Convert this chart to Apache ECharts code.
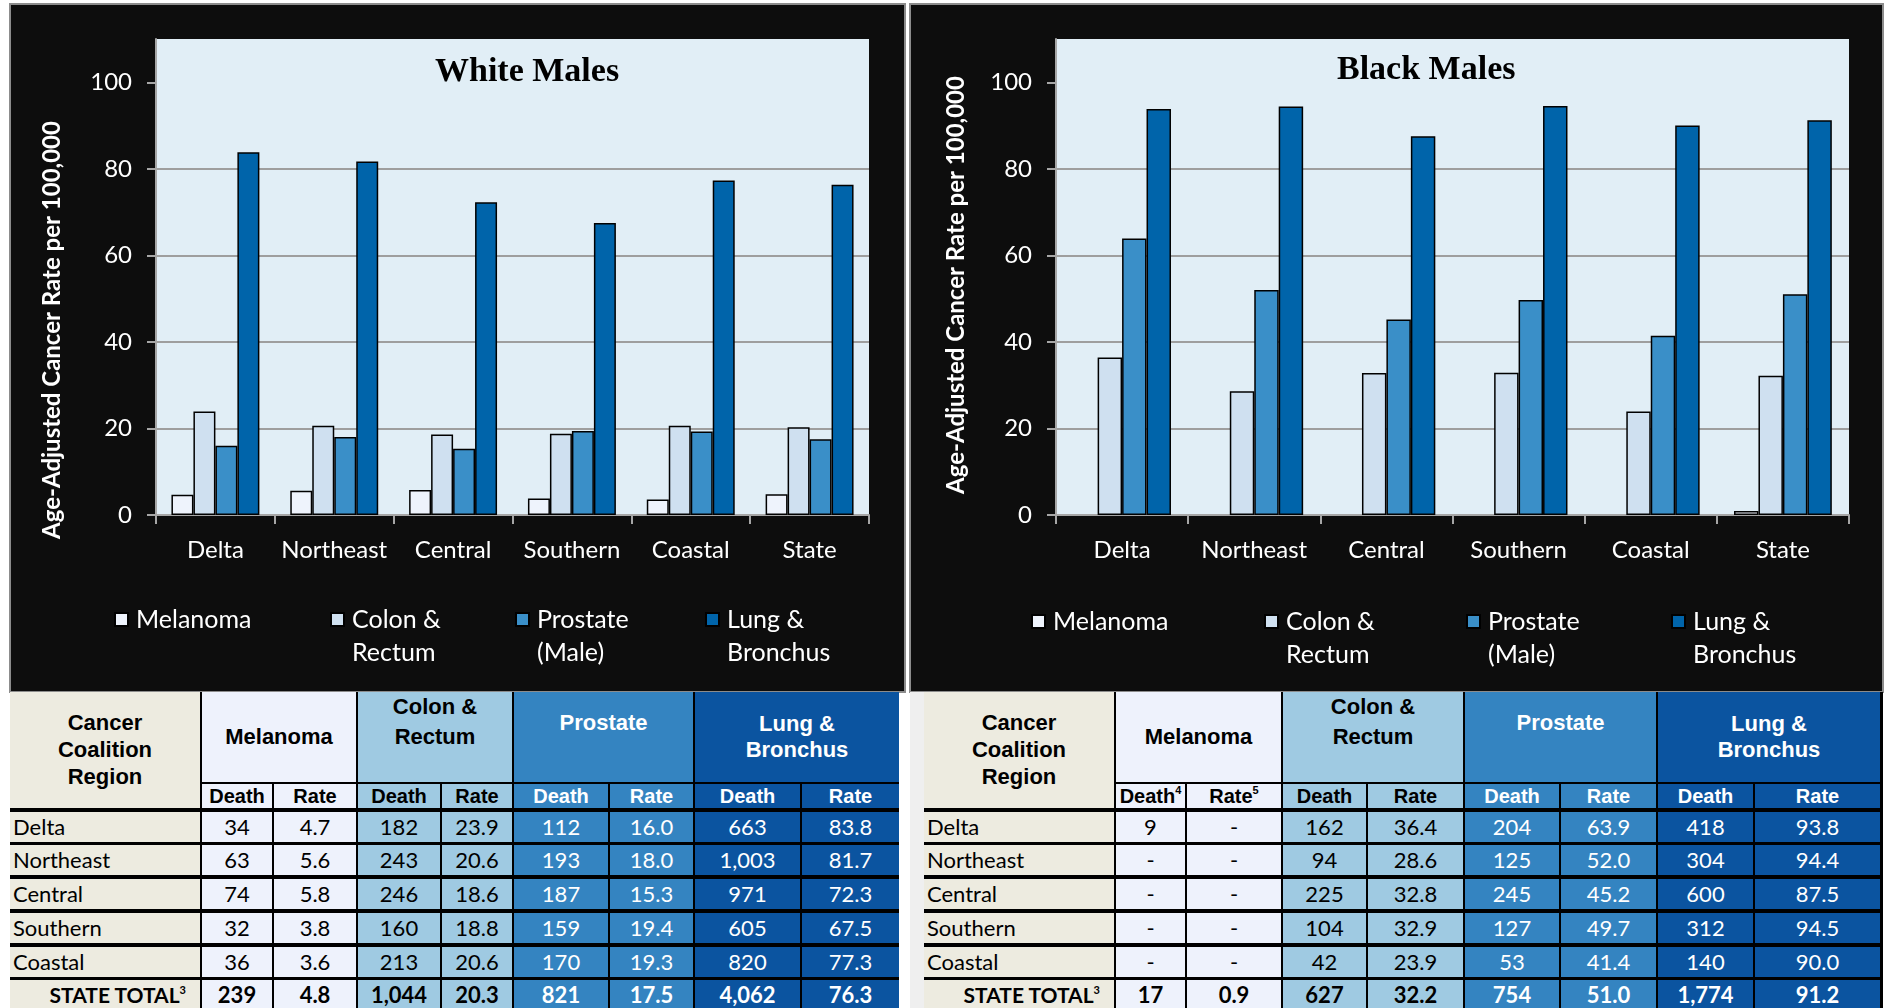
<!DOCTYPE html>
<html>
<head>
<meta charset="utf-8">
<script src="https://cdn.jsdelivr.net/npm/echarts@6/dist/echarts.min.js"></script>
<style>
  html, body { margin: 0; padding: 0; background: #fff; }
  body { width: 1889px; height: 1008px; overflow: hidden; position: relative; }
  .panel { position: absolute; top: 3px; height: 686px; border: 2px solid #8c8c8c; background: #0d0d0d; }
  .panel .box { width: 100%; height: 100%; }
  .tbl { position: absolute; top: 692px; height: 316px; overflow: hidden; }
  .cell { position: absolute; box-sizing: border-box; overflow: hidden; white-space: nowrap; }
  .hd { font-family: "Liberation Sans", Arial, sans-serif; font-weight: bold; text-align: center; }
  .bd { font-family: Lato, sans-serif; font-size: 22px; line-height: 30px; text-align: center; }
  sup { font-size: 11px; vertical-align: 9px; line-height: 0; }
</style>
</head>
<body>
<div class="panel" style="left:9px;width:893px;"><div class="box" id="whiteChart"></div></div>
<div class="panel" style="left:909px;width:971px;"><div class="box" id="blackChart"></div></div>
<div style="position:absolute;left:910px;top:692px;width:14px;height:316px;background:#efefef;"></div>
<div class="tbl" id="whiteTable"></div>
<div class="tbl" id="blackTable"></div>
<script>
// chart data
const categories = ["Delta", "Northeast", "Central", "Southern", "Coastal", "State"];
const regions = ["Delta", "Northeast", "Central", "Southern", "Coastal"];
const seriesNames = ["Melanoma", "Colon &\nRectum", "Prostate\n(Male)", "Lung &\nBronchus"];
const tableGroups = ["Melanoma", "Colon &<br>Rectum", "Prostate", "Lung &<br>Bronchus"];
const yTicks = [0, 20, 40, 60, 80, 100];

// White males (last value = state total)
const whiteMelanomaRate = [4.7, 5.6, 5.8, 3.8, 3.6, 4.8];
const whiteColonRate = [23.9, 20.6, 18.6, 18.8, 20.6, 20.3];
const whiteProstateRate = [16.0, 18.0, 15.3, 19.4, 19.3, 17.5];
const whiteLungRate = [83.8, 81.7, 72.3, 67.5, 77.3, 76.3];
const whiteMelanomaDeath = [34, 63, 74, 32, 36, 239];
const whiteColonDeath = [182, 243, 246, 160, 213, 1044];
const whiteProstateDeath = [112, 193, 187, 159, 170, 821];
const whiteLungDeath = [663, 1003, 971, 605, 820, 4062];

// Black males
const blackMelanomaRate = [null, null, null, null, null, 0.9];
const blackColonRate = [36.4, 28.6, 32.8, 32.9, 23.9, 32.2];
const blackProstateRate = [63.9, 52.0, 45.2, 49.7, 41.4, 51.0];
const blackLungRate = [93.8, 94.4, 87.5, 94.5, 90.0, 91.2];
const blackMelanomaDeath = [9, null, null, null, null, 17];
const blackColonDeath = [162, 94, 225, 104, 42, 627];
const blackProstateDeath = [204, 125, 245, 127, 53, 754];
const blackLungDeath = [418, 304, 600, 312, 140, 1774];

const barColors = ["#EEF3FC", "#CFE0F0", "#3A8FC8", "#0064AA"];
const tableColors = ["#EEF2FC", "#9FCAE2", "#3484C1", "#0B54A0"];
const textColors = ["#000", "#000", "#fff", "#fff"];

function makeChart(el, cfg) {
  let chart = echarts.init(el);
  let series = cfg.data.map((d, i) => ({
    name: seriesNames[i],
    type: "bar",
    data: d,
    barGap: "0%",
    barCategoryGap: "26%",
    itemStyle: { color: barColors[i], borderColor: "#000", borderWidth: 1.5 }
  }));
  // three text lines per item, so the first real line sits beside the square
  let legend = seriesNames.map((n, i) => ({
    data: [n],
    left: cfg.legendLeft[i],
    top: cfg.legendTop,
    padding: 0,
    icon: "rect",
    itemWidth: 13,
    itemHeight: 13,
    selectedMode: false,
    formatter: name => {
      let parts = name.split("\n");
      return ["\u00a0", parts[0], parts[1] || "\u00a0"].join("\n");
    },
    textStyle: { color: "#fff", fontFamily: "Lato", fontSize: 25, lineHeight: 33, padding: [0, 0, 0, 3] }
  }));
  let axisGray = { color: "#A6A6A6", width: 2 };
  let option = {
    backgroundColor: "#0d0d0d",
    animation: false,
    title: {
      text: cfg.title,
      left: cfg.titleLeft,
      top: cfg.titleTop,
      padding: 0,
      textStyle: { fontFamily: "Liberation Serif", fontWeight: "bold", fontSize: 34, color: "#000" }
    },
    legend,
    grid: {
      left: 145, top: 34, width: cfg.plotWidth, height: 476,
      show: true, backgroundColor: "#E1EEF6", borderWidth: 0
    },
    xAxis: {
      type: "category",
      data: categories,
      axisLine: { lineStyle: axisGray },
      axisTick: { show: true, length: 9, lineStyle: axisGray },
      axisLabel: { color: "#fff", fontFamily: "Lato", fontSize: 24, margin: 23, interval: 0 }
    },
    yAxis: {
      type: "value",
      min: 0,
      max: 110,
      interval: 20,
      name: "Age-Adjusted Cancer Rate per 100,000",
      nameLocation: "middle",
      nameGap: cfg.nameGap,
      nameTextStyle: {
        color: "#fff", fontFamily: "Lato", fontWeight: "bold", fontSize: 24,
        padding: [0, cfg.namePad, 0, 0]
      },
      axisLine: { show: true, lineStyle: axisGray },
      axisTick: { show: true, length: 9, lineStyle: axisGray, customValues: yTicks },
      axisLabel: {
        color: "#fff", fontFamily: "Lato", fontSize: 24, margin: 24, customValues: yTicks,
        formatter: v => (v > 100 ? "" : v)
      },
      splitLine: { show: true, showMaxLine: false, lineStyle: { color: "#9E9E9E", width: 2 } }
    },
    series
  };
  chart.setOption(option);
  return chart;
}

makeChart(document.getElementById("whiteChart"), {
  title: "White Males",
  titleLeft: 424, titleTop: 50,
  plotWidth: 713,
  nameGap: 92, namePad: 106,
  legendLeft: [103, 319, 504, 694], legendTop: 565,
  data: [whiteMelanomaRate, whiteColonRate, whiteProstateRate, whiteLungRate]
});

makeChart(document.getElementById("blackChart"), {
  title: "Black Males",
  titleLeft: 426, titleTop: 48,
  plotWidth: 793,
  nameGap: 88, namePad: 16,
  legendLeft: [120, 353, 555, 760], legendTop: 567,
  data: [blackMelanomaRate, blackColonRate, blackProstateRate, blackLungRate]
});

function fmtDeath(v) { return v == null ? "-" : v.toLocaleString("en-US"); }
function fmtRate(v) { return v == null ? "-" : v.toFixed(1); }

function buildTable(id, left, width, edges, deaths, rates, subSup) {
  let t = document.getElementById(id);
  t.style.left = left + "px";
  t.style.width = width + "px";
  t.style.background = "#000";
  const top = 692;
  function cell(x1, x2, y1, y2, bg, color, cls, html, extra) {
    let d = document.createElement("div");
    d.className = "cell " + cls;
    d.style.left = (x1 - left) + "px";
    d.style.width = (x2 - x1) + "px";
    d.style.top = (y1 - top) + "px";
    d.style.height = (y2 - y1) + "px";
    d.style.background = bg;
    d.style.color = color;
    if (extra) Object.assign(d.style, extra);
    d.innerHTML = html;
    t.appendChild(d);
  }
  // region header
  cell(edges[0][0], edges[0][1], 692, 808, "#EDEBE0", "#000", "hd", "Cancer<br>Coalition<br>Region",
    { fontSize: "22px", lineHeight: "27px", paddingTop: "17px" });
  const grpLine = [28, 30, 28, 26];
  const grpPad = [31, 0, 17, 19];
  for (let g = 0; g < 4; g++) {
    let a = edges[1 + g * 2], b = edges[2 + g * 2];
    cell(a[0], b[1], 692, 782, tableColors[g], textColors[g], "hd", tableGroups[g],
      { fontSize: "22px", lineHeight: grpLine[g] + "px", paddingTop: grpPad[g] + "px" });
    let dh = "Death", rh = "Rate";
    if (g === 0 && subSup) { dh += "<sup>" + subSup[0] + "</sup>"; rh += "<sup>" + subSup[1] + "</sup>"; }
    cell(a[0], a[1], 784, 808, tableColors[g], textColors[g], "hd", dh, { fontSize: "20px", lineHeight: "24px" });
    cell(b[0], b[1], 784, 808, tableColors[g], textColors[g], "hd", rh, { fontSize: "20px", lineHeight: "24px" });
  }
  const rowTops = [812, 845, 879, 913, 947, 980];
  for (let r = 0; r < 6; r++) {
    let y1 = rowTops[r], y2 = y1 + 30;
    let isTotal = r === 5;
    if (isTotal) {
      cell(edges[0][0], edges[0][1], y1, y2, "#EDEBE0", "#000", "bd", "STATE TOTAL<sup>3</sup>",
        { fontWeight: "bold", textAlign: "right", paddingRight: "14px", fontSize: "21px" });
    } else {
      cell(edges[0][0], edges[0][1], y1, y2, "#EDEBE0", "#000", "bd", regions[r],
        { textAlign: "left", paddingLeft: "3px" });
    }
    for (let g = 0; g < 4; g++) {
      let a = edges[1 + g * 2], b = edges[2 + g * 2];
      let ex = isTotal ? { fontWeight: "bold" } : null;
      cell(a[0], a[1], y1, y2, tableColors[g], textColors[g], "bd", fmtDeath(deaths[g][r]), ex);
      cell(b[0], b[1], y1, y2, tableColors[g], textColors[g], "bd", fmtRate(rates[g][r]), ex);
    }
  }
}

buildTable("whiteTable", 10, 889,
  [[10, 200], [202, 272], [274, 356], [358, 440], [442, 512], [514, 608], [610, 693], [695, 800], [802, 899]],
  [whiteMelanomaDeath, whiteColonDeath, whiteProstateDeath, whiteLungDeath],
  [whiteMelanomaRate, whiteColonRate, whiteProstateRate, whiteLungRate], null);

buildTable("blackTable", 924, 959,
  [[924, 1114], [1116, 1185], [1187, 1281], [1283, 1366], [1368, 1463], [1465, 1559], [1561, 1656], [1658, 1753], [1755, 1880]],
  [blackMelanomaDeath, blackColonDeath, blackProstateDeath, blackLungDeath],
  [blackMelanomaRate, blackColonRate, blackProstateRate, blackLungRate], ["4", "5"]);
</script>
</body>
</html>
